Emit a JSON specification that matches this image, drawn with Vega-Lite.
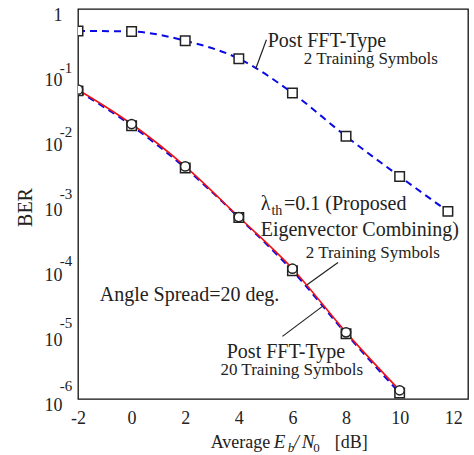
{
  "$schema": "https://vega.github.io/schema/vega-lite/v6.json",
  "width": 390,
  "height": 390,
  "autosize": {"type": "none"},
  "padding": {"left": 78, "top": 9, "right": 6, "bottom": 56},
  "background": "white",
  "config": {
    "view": {"stroke": "#111", "strokeWidth": 1.3},
    "font": "Liberation Serif",
    "text": {"font": "Liberation Serif", "color": "#222"}
  },
  "datasets": {
    "curves": [
      {"series": "post2", "x": -2, "ber": 0.46},
      {"series": "post2", "x": 0, "ber": 0.45},
      {"series": "post2", "x": 2, "ber": 0.325},
      {"series": "post2", "x": 4, "ber": 0.172},
      {"series": "post2", "x": 6, "ber": 0.051},
      {"series": "post2", "x": 8, "ber": 0.011},
      {"series": "post2", "x": 10, "ber": 0.00266},
      {"series": "post2", "x": 11.8, "ber": 0.00077},
      {"series": "eigen", "x": -2, "ber": 0.0573},
      {"series": "eigen", "x": 0, "ber": 0.017},
      {"series": "eigen", "x": 2, "ber": 0.00379},
      {"series": "eigen", "x": 4, "ber": 0.00063},
      {"series": "eigen", "x": 6, "ber": 0.000101},
      {"series": "eigen", "x": 8, "ber": 0.0000106},
      {"series": "eigen", "x": 10, "ber": 0.00000136},
      {"series": "post20", "x": -2, "ber": 0.055},
      {"series": "post20", "x": 0, "ber": 0.016},
      {"series": "post20", "x": 2, "ber": 0.00358},
      {"series": "post20", "x": 4, "ber": 0.00062},
      {"series": "post20", "x": 6, "ber": 0.000094},
      {"series": "post20", "x": 8, "ber": 0.0000101},
      {"series": "post20", "x": 10, "ber": 0.00000124}
    ],
    "xticks": [{"x": 0}, {"x": 2}, {"x": 4}, {"x": 6}, {"x": 8}, {"x": 10}, {"x": 12}],
    "yticks": [{"ber": 0.01}, {"ber": 0.001}, {"ber": 0.0001}, {"ber": 0.00001}],
    "labels": [
      {"grp": "big", "x": 5.078, "y": 0.263, "t": "Post FFT-Type"},
      {"grp": "big", "x": 4.817, "y": 0.000797, "t": "λ"},
      {"grp": "big", "x": 5.687, "y": 0.000797, "t": "=0.1 (Proposed"},
      {"grp": "big", "x": 4.817, "y": 0.000317, "t": "Eigenvector Combining)"},
      {"grp": "big", "x": -1.19, "y": 0.0000317, "t": "Angle Spread=20 deg."},
      {"grp": "big", "x": 3.549, "y": 0.00000432, "t": "Post FFT-Type"},
      {"grp": "small", "x": 6.422, "y": 0.144, "t": "2 Training Symbols"},
      {"grp": "small", "x": 6.496, "y": 0.000149, "t": "2 Training Symbols"},
      {"grp": "small", "x": 3.313, "y": 0.00000231, "t": "20 Training Symbols"},
      {"grp": "sub", "x": 5.216, "y": 0.000685, "t": "th"},
      {"grp": "title", "x": 2.951, "y": 1.75e-7, "t": "Average"},
      {"grp": "title", "x": 7.578, "y": 1.75e-7, "t": "[dB]"},
      {"grp": "titleit", "x": 5.302, "y": 1.75e-7, "t": "E"},
      {"grp": "titleit", "x": 6.049, "y": 1.75e-7, "t": "/"},
      {"grp": "titleit", "x": 6.347, "y": 1.75e-7, "t": "N"},
      {"grp": "titlesubit", "x": 5.825, "y": 1.52e-7, "t": "b"},
      {"grp": "titlesub", "x": 6.78, "y": 1.52e-7, "t": "0"},
      {"grp": "exp", "x": -2.683, "y": 0.1237, "t": "-1"},
      {"grp": "exp", "x": -2.683, "y": 0.01264, "t": "-2"},
      {"grp": "exp", "x": -2.683, "y": 0.001406, "t": "-3"},
      {"grp": "exp", "x": -2.683, "y": 0.0001327, "t": "-4"},
      {"grp": "exp", "x": -2.683, "y": 0.00001452, "t": "-5"},
      {"grp": "exp", "x": -2.683, "y": 0.000001596, "t": "-6"}
    ],
    "leaders": [
      {"x1": 5.03, "y1": 0.337, "x2": 4.63, "y2": 0.1207},
      {"x1": 7.701, "y1": 0.000126, "x2": 6.545, "y2": 0.0000573},
      {"x1": 5.627, "y1": 0.00000919, "x2": 7.119, "y2": 0.0000266}
    ]
  },
  "encoding": {
    "x": {
      "field": "x", "type": "quantitative",
      "scale": {"domain": [-2, 12.55], "nice": false, "zero": false},
      "axis": {
        "title": null, "values": [-2, 0, 2, 4, 6, 8, 10, 12],
        "labelExpr": "datum.value + ''", "labelFlush": false,
        "domain": false, "grid": false, "ticks": false,
        "labelFont": "Liberation Serif", "labelFontSize": 18, "labelColor": "#222",
        "labelPadding": 10
      }
    },
    "y": {
      "field": "ber", "type": "quantitative",
      "scale": {"type": "log", "domain": [0.000001, 1], "nice": false},
      "axis": {
        "title": "BER", "titleFont": "Liberation Serif", "titleFontSize": 20, "titleFontWeight": "normal", "titleColor": "#222",
        "titleX": -46.6, "titleY": 198, "titleBaseline": "alphabetic", "titleAlign": "center", "titleAngle": -90,
        "values": [1, 0.1, 0.01, 0.001, 0.0001, 0.00001, 0.000001],
        "labelExpr": "datum.value >= 1 ? '1' : '10'",
        "domain": false, "grid": false, "ticks": false,
        "labelFont": "Liberation Serif", "labelFontSize": 18, "labelColor": "#222",
        "labelPadding": 16, "labelOffset": 6, "labelBaseline": "middle"
      }
    }
  },
  "layer": [
    {
      "data": {"name": "xticks"},
      "mark": {"type": "rule", "color": "#111", "strokeWidth": 1.4},
      "encoding": {
        "y": {"datum": 0.000001, "type": "quantitative"},
        "y2": {"datum": 0.0000017}
      }
    },
    {
      "data": {"name": "yticks"},
      "mark": {"type": "rule", "color": "#111", "strokeWidth": 1.4},
      "encoding": {
        "x": {"datum": -2, "type": "quantitative"},
        "x2": {"datum": -1.44}
      }
    },
    {
      "data": {"name": "curves"},
      "transform": [{"filter": "datum.series !== 'eigen'"}],
      "mark": {"type": "line", "interpolate": "monotone", "color": "#0a0ae6", "strokeWidth": 2, "strokeDash": [7, 5], "clip": true},
      "encoding": {"detail": {"field": "series"}}
    },
    {
      "data": {"name": "curves"},
      "transform": [{"filter": "datum.series === 'eigen'"}],
      "mark": {"type": "line", "interpolate": "monotone", "color": "#ee1111", "strokeWidth": 1.6, "clip": true},
      "encoding": {}
    },
    {
      "data": {"name": "curves"},
      "transform": [{"filter": "datum.series !== 'eigen'"}],
      "mark": {"type": "point", "shape": "square", "size": 90, "filled": false, "fill": "white", "fillOpacity": 1, "stroke": "#222", "strokeWidth": 1.5, "opacity": 1, "clip": true},
      "encoding": {}
    },
    {
      "data": {"name": "curves"},
      "transform": [{"filter": "datum.series === 'eigen'"}],
      "mark": {"type": "point", "shape": "circle", "size": 85, "filled": false, "fill": "white", "fillOpacity": 1, "stroke": "#222", "strokeWidth": 1.5, "opacity": 1, "clip": true},
      "encoding": {}
    },
    {
      "data": {"name": "leaders"},
      "mark": {"type": "rule", "color": "#222", "strokeWidth": 1.2},
      "encoding": {
        "x": {"field": "x1", "type": "quantitative"},
        "y": {"field": "y1", "type": "quantitative"},
        "x2": {"field": "x2"},
        "y2": {"field": "y2"}
      }
    },
    {
      "data": {"name": "labels"},
      "transform": [{"filter": "datum.grp === 'big'"}],
      "mark": {"type": "text", "fontSize": 20, "align": "left", "baseline": "alphabetic"},
      "encoding": {"y": {"field": "y", "type": "quantitative"}, "text": {"field": "t"}}
    },
    {
      "data": {"name": "labels"},
      "transform": [{"filter": "datum.grp === 'small'"}],
      "mark": {"type": "text", "fontSize": 17, "align": "left", "baseline": "alphabetic"},
      "encoding": {"y": {"field": "y", "type": "quantitative"}, "text": {"field": "t"}}
    },
    {
      "data": {"name": "labels"},
      "transform": [{"filter": "datum.grp === 'sub'"}],
      "mark": {"type": "text", "fontSize": 14, "align": "left", "baseline": "alphabetic"},
      "encoding": {"y": {"field": "y", "type": "quantitative"}, "text": {"field": "t"}}
    },
    {
      "data": {"name": "labels"},
      "transform": [{"filter": "datum.grp === 'title'"}],
      "mark": {"type": "text", "fontSize": 18, "align": "left", "baseline": "alphabetic"},
      "encoding": {"y": {"field": "y", "type": "quantitative"}, "text": {"field": "t"}}
    },
    {
      "data": {"name": "labels"},
      "transform": [{"filter": "datum.grp === 'titleit'"}],
      "mark": {"type": "text", "fontSize": 19, "fontStyle": "italic", "align": "left", "baseline": "alphabetic"},
      "encoding": {"y": {"field": "y", "type": "quantitative"}, "text": {"field": "t"}}
    },
    {
      "data": {"name": "labels"},
      "transform": [{"filter": "datum.grp === 'titlesubit'"}],
      "mark": {"type": "text", "fontSize": 13, "fontStyle": "italic", "align": "left", "baseline": "alphabetic"},
      "encoding": {"y": {"field": "y", "type": "quantitative"}, "text": {"field": "t"}}
    },
    {
      "data": {"name": "labels"},
      "transform": [{"filter": "datum.grp === 'titlesub'"}],
      "mark": {"type": "text", "fontSize": 13, "align": "left", "baseline": "alphabetic"},
      "encoding": {"y": {"field": "y", "type": "quantitative"}, "text": {"field": "t"}}
    },
    {
      "data": {"name": "labels"},
      "transform": [{"filter": "datum.grp === 'exp'"}],
      "mark": {"type": "text", "fontSize": 15, "align": "left", "baseline": "middle"},
      "encoding": {"y": {"field": "y", "type": "quantitative"}, "text": {"field": "t"}}
    }
  ]
}
